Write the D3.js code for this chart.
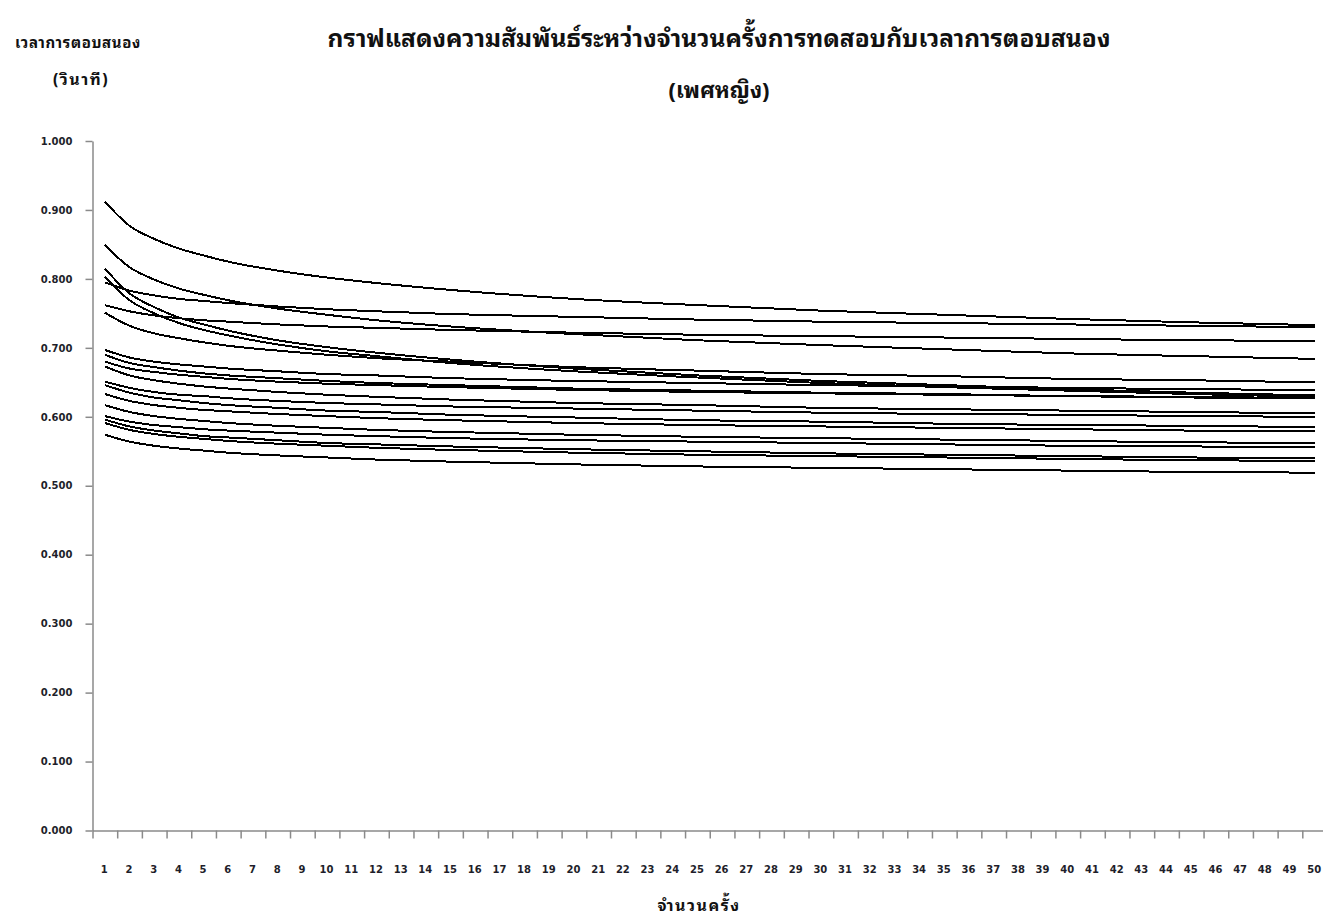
<!DOCTYPE html>
<html>
<head>
<meta charset="utf-8">
<script src="https://cdn.jsdelivr.net/npm/d3@7"></script>
<style>
  html, body { margin: 0; padding: 0; background: #fff; }
  svg { display: block; }
  .tick text { font-family: "DejaVu Sans", Verdana, sans-serif; font-weight: bold; font-size: 10px; fill: #1e1e2a; }
  .thai { font-family: "Noto Sans Thai Looped", "Noto Serif Thai", "Noto Sans Thai", Tahoma, "DejaVu Sans", sans-serif; font-weight: bold; fill: #111; }
</style>
</head>
<body>
<svg id="chart" width="1323" height="920"></svg>
<script>
// Trial numbers at which each response-time curve is sampled
const trialPoints = [1, 2, 3, 4, 5, 6, 8, 10, 12, 15, 20, 25, 30, 35, 40, 45, 50];

// Category labels along the horizontal axis
const xCategories = [1, 2, 3, 4, 5, 6, 7, 8, 9, 10, 11, 12, 13, 14, 15, 16, 17, 18, 19, 20,
  21, 22, 23, 24, 25, 26, 27, 28, 29, 30, 31, 32, 33, 34, 35, 36, 37, 38, 39, 40,
  41, 42, 43, 44, 45, 46, 47, 48, 49, 50];

// Vertical axis ticks (seconds)
const yTicks = [0.0, 0.1, 0.2, 0.3, 0.4, 0.5, 0.6, 0.7, 0.8, 0.9, 1.0];

// Response time (s) of each participant at the sampled trials
const p01 = [0.912, 0.877, 0.858, 0.844, 0.834, 0.825, 0.812, 0.802, 0.794, 0.784, 0.771, 0.762, 0.754, 0.748, 0.742, 0.737, 0.733];
const p02 = [0.849, 0.817, 0.799, 0.786, 0.777, 0.769, 0.757, 0.748, 0.740, 0.731, 0.720, 0.711, 0.704, 0.698, 0.692, 0.688, 0.684];
const p03 = [0.815, 0.779, 0.759, 0.744, 0.734, 0.725, 0.711, 0.701, 0.693, 0.683, 0.670, 0.660, 0.652, 0.646, 0.640, 0.635, 0.631];
const p04 = [0.803, 0.769, 0.750, 0.736, 0.726, 0.718, 0.705, 0.695, 0.688, 0.678, 0.666, 0.657, 0.649, 0.643, 0.638, 0.633, 0.629];
const p05 = [0.795, 0.783, 0.776, 0.771, 0.768, 0.765, 0.760, 0.756, 0.753, 0.749, 0.745, 0.741, 0.738, 0.736, 0.734, 0.732, 0.730];
const p06 = [0.762, 0.753, 0.747, 0.743, 0.740, 0.738, 0.734, 0.731, 0.729, 0.726, 0.722, 0.719, 0.717, 0.715, 0.713, 0.711, 0.710];
const p07 = [0.751, 0.732, 0.721, 0.714, 0.708, 0.703, 0.696, 0.690, 0.685, 0.680, 0.672, 0.667, 0.662, 0.659, 0.655, 0.653, 0.650];
const p08 = [0.697, 0.686, 0.680, 0.676, 0.673, 0.670, 0.666, 0.662, 0.660, 0.656, 0.652, 0.649, 0.646, 0.644, 0.642, 0.640, 0.639];
const p09 = [0.690, 0.678, 0.672, 0.667, 0.663, 0.660, 0.656, 0.652, 0.649, 0.646, 0.641, 0.638, 0.635, 0.633, 0.630, 0.629, 0.627];
const p10 = [0.680, 0.670, 0.665, 0.661, 0.658, 0.655, 0.651, 0.648, 0.646, 0.643, 0.639, 0.636, 0.634, 0.632, 0.630, 0.628, 0.627];
const p11 = [0.673, 0.660, 0.653, 0.648, 0.644, 0.641, 0.636, 0.632, 0.629, 0.625, 0.620, 0.617, 0.613, 0.611, 0.609, 0.607, 0.605];
const p12 = [0.651, 0.642, 0.636, 0.632, 0.630, 0.627, 0.623, 0.620, 0.618, 0.615, 0.612, 0.609, 0.606, 0.604, 0.603, 0.601, 0.600];
const p13 = [0.646, 0.635, 0.628, 0.624, 0.620, 0.617, 0.613, 0.609, 0.607, 0.603, 0.599, 0.595, 0.593, 0.590, 0.588, 0.587, 0.585];
const p14 = [0.633, 0.623, 0.617, 0.613, 0.610, 0.608, 0.604, 0.601, 0.598, 0.595, 0.591, 0.588, 0.586, 0.584, 0.582, 0.580, 0.579];
const p15 = [0.617, 0.607, 0.601, 0.597, 0.594, 0.591, 0.587, 0.584, 0.581, 0.578, 0.574, 0.571, 0.569, 0.567, 0.565, 0.563, 0.562];
const p16 = [0.601, 0.593, 0.588, 0.585, 0.582, 0.580, 0.577, 0.574, 0.572, 0.569, 0.566, 0.564, 0.562, 0.560, 0.558, 0.557, 0.556];
const p17 = [0.596, 0.586, 0.580, 0.576, 0.572, 0.570, 0.566, 0.562, 0.560, 0.557, 0.553, 0.550, 0.547, 0.545, 0.543, 0.541, 0.540];
const p18 = [0.591, 0.581, 0.575, 0.571, 0.568, 0.565, 0.561, 0.558, 0.555, 0.552, 0.548, 0.545, 0.543, 0.541, 0.539, 0.537, 0.536];
const p19 = [0.574, 0.564, 0.558, 0.554, 0.551, 0.548, 0.544, 0.541, 0.538, 0.535, 0.531, 0.528, 0.526, 0.524, 0.522, 0.520, 0.519];

const seriesValues = [p01, p02, p03, p04, p05, p06, p07, p08, p09, p10,
  p11, p12, p13, p14, p15, p16, p17, p18, p19];

const svg = d3.select("#chart");

// Category axis: each trial sits in the middle of its own slot
const x = d3.scaleLinear().domain([0.5, 50.5]).range([92.5, 1327]);
const y = d3.scaleLinear().domain([0, 1]).range([830.5, 141]);

const axisColor = "#8a8a8a";

// Vertical axis
const gy = svg.append("g")
  .attr("transform", `translate(${x(0.5)},0)`)
  .call(d3.axisLeft(y).tickValues(yTicks).tickFormat(d3.format(".3f"))
    .tickSize(7).tickSizeOuter(0).tickPadding(13));
gy.select(".domain").attr("stroke", axisColor).attr("stroke-width", 1.5);
gy.selectAll(".tick line").attr("stroke", axisColor).attr("stroke-width", 1.5);

// Horizontal axis: tick marks on slot boundaries
const boundaries = xCategories.map(c => c - 0.5).concat([xCategories[xCategories.length - 1] + 0.5]);
const gx = svg.append("g")
  .attr("transform", `translate(0,${y(0)})`)
  .call(d3.axisBottom(x).tickValues(boundaries).tickFormat("").tickSize(8).tickSizeOuter(0));
gx.select(".domain").attr("stroke", axisColor).attr("stroke-width", 1.5);
gx.selectAll(".tick line").attr("stroke", axisColor).attr("stroke-width", 1.5);

// Horizontal axis labels centred in each slot
const gxl = svg.append("g")
  .attr("transform", `translate(-1,${y(0)})`)
  .call(d3.axisBottom(x).tickValues(xCategories).tickFormat(d3.format("d")).tickSize(0).tickPadding(35));
gxl.select(".domain").remove();

// Response-time curves
const line = d3.line()
  .x((d, i) => x(trialPoints[i]))
  .y(d => y(d))
  .curve(d3.curveMonotoneX);

svg.append("g")
  .selectAll("path")
  .data(seriesValues)
  .join("path")
  .attr("d", line)
  .attr("fill", "none")
  .attr("stroke", "#000")
  .attr("stroke-width", 2)
  .attr("shape-rendering", "crispEdges");

// Titles
svg.append("text").attr("class", "thai")
  .attr("x", 719).attr("y", 47).attr("text-anchor", "middle").attr("font-size", 24.5)
  .text("กราฟแสดงความสัมพันธ์ระหว่างจำนวนครั้งการทดสอบกับเวลาการตอบสนอง");
svg.append("text").attr("class", "thai")
  .attr("x", 719).attr("y", 98).attr("text-anchor", "middle").attr("font-size", 22)
  .text("(เพศหญิง)");

// Axis titles
svg.append("text").attr("class", "thai")
  .attr("x", 78).attr("y", 48).attr("text-anchor", "middle").attr("font-size", 15)
  .attr("letter-spacing", 0.6)
  .text("เวลาการตอบสนอง");
svg.append("text").attr("class", "thai")
  .attr("x", 81).attr("y", 85).attr("text-anchor", "middle").attr("font-size", 16)
  .attr("letter-spacing", 1.5)
  .text("(วินาที)");
svg.append("text").attr("class", "thai")
  .attr("x", 699).attr("y", 911).attr("text-anchor", "middle").attr("font-size", 16)
  .attr("letter-spacing", 1.5)
  .text("จำนวนครั้ง");
</script>
</body>
</html>
